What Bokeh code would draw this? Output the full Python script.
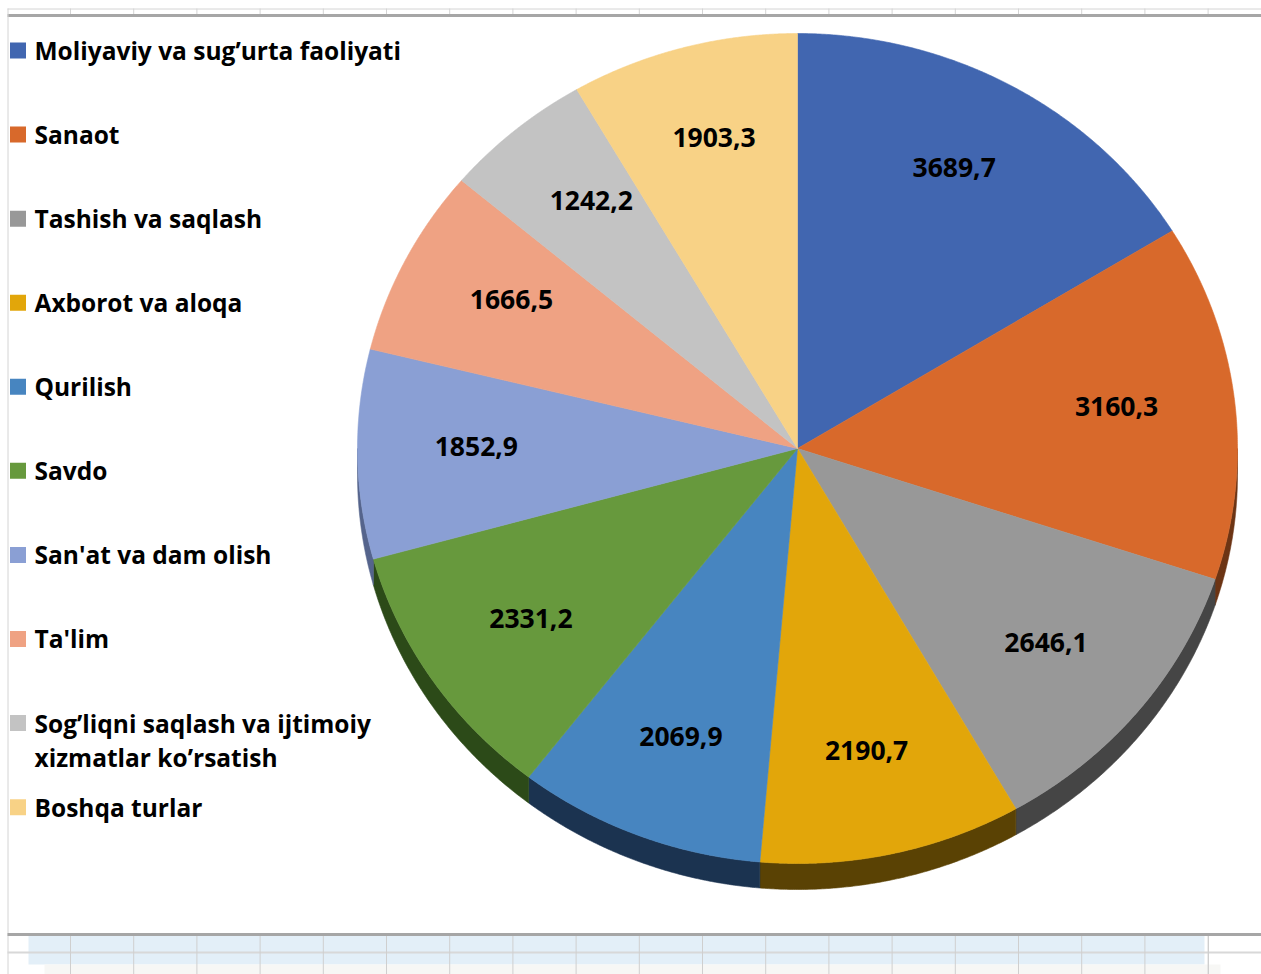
import numpy as np
from bokeh.plotting import figure
from bokeh.models import Range1d, ColumnDataSource
from bokeh.core.properties import value
from bokeh.embed import file_html
from bokeh.resources import INLINE

# ---------------- data ----------------
categories = [
    "Moliyaviy va sug’urta faoliyati",
    "Sanaot",
    "Tashish va saqlash",
    "Axborot va aloqa",
    "Qurilish",
    "Savdo",
    "San'at va dam olish",
    "Ta'lim",
    "Sog’liqni saqlash va ijtimoiy\nxizmatlar ko’rsatish",
    "Boshqa  turlar",
]
values = [3689.7, 3160.3, 2646.1, 2190.7, 2069.9, 2331.2, 1852.9, 1666.5, 1242.2, 1903.3]

top_colors = ["#4166b0", "#d8692b", "#989898", "#e2a60a", "#4785c0",
              "#67993d", "#8a9fd4", "#efa283", "#c3c3c3", "#f8d286"]
side_colors = ["#223a66", "#6c3414", "#454545", "#5a4204", "#1b3350",
               "#2c4a18", "#55648c", "#7a5040", "#666666", "#7a6840"]

# ---------------- layout ----------------
W, H = 1261, 974
cx, cy, rx, ry, depth = 797.0, 448.0, 440.0, 415.0, 26.0

p = figure(width=W, height=H, x_range=Range1d(0, W), y_range=Range1d(H, 0),
           output_backend="svg", toolbar_location=None, min_border=0,
           x_axis_type=None, y_axis_type=None)
p.grid.grid_line_color = None
p.outline_line_color = None
p.background_fill_color = "white"
p.border_fill_color = "white"

# spreadsheet-like background
col_x = np.arange(70, W, 63.2)
p.segment(x0=col_x, y0=np.full_like(col_x, 8), x1=col_x, y1=np.full_like(col_x, 15),
          line_color="#d4d4d4", line_width=1)
p.segment(x0=[7], y0=[8.5], x1=[W], y1=[8.5], line_color="#d4d4d4", line_width=1)
p.segment(x0=[7], y0=[15], x1=[W], y1=[15], line_color="#a6a6a6", line_width=3)
p.segment(x0=[7.5], y0=[8], x1=[7.5], y1=[H], line_color="#d4d4d4", line_width=1)

p.quad(left=[28], right=[1204], top=[935], bottom=[964], fill_color="#e3eff8", line_color=None)
p.quad(left=[44], right=[1220], top=[964], bottom=[H], fill_color="#f7f7f5", line_color=None)
p.segment(x0=[7], y0=[952], x1=[W], y1=[952], line_color="#d8d8d8", line_width=2)
p.segment(x0=col_x, y0=np.full_like(col_x, 935), x1=col_x, y1=np.full_like(col_x, H),
          line_color="#cfcfcf", line_width=1)
p.segment(x0=[1208], y0=[935], x1=[1208], y1=[H], line_color="#cfcfcf", line_width=1)
p.segment(x0=[7], y0=[934], x1=[W], y1=[934], line_color="#a6a6a6", line_width=3)

# ---------------- pie ----------------
vals = np.array(values, dtype=float)
cum = np.concatenate([[0.0], np.cumsum(vals)])
ang = cum / cum[-1] * 2 * np.pi


def ex(t):
    return cx + rx * np.sin(t)


def ey(t):
    return cy - ry * np.cos(t)


side_xs, side_ys, side_c = [], [], []
top_xs, top_ys = [], []
for i in range(len(vals)):
    a0, a1 = ang[i], ang[i + 1]
    s, e = max(a0, np.pi / 2), min(a1, 3 * np.pi / 2)
    if e > s:
        t = np.linspace(s, e, 120)
        side_xs.append(list(np.concatenate([ex(t), ex(t[::-1])])))
        side_ys.append(list(np.concatenate([ey(t), ey(t[::-1]) + depth])))
        side_c.append(side_colors[i])
    t = np.linspace(a0, a1, 200)
    top_xs.append([cx] + list(ex(t)))
    top_ys.append([cy] + list(ey(t)))

p.patches(xs="xs", ys="ys", fill_color="c", line_color="c", line_width=0.6,
          source=ColumnDataSource(dict(xs=side_xs, ys=side_ys, c=side_c)))
p.patches(xs="xs", ys="ys", fill_color="c", line_color="c", line_width=0.6,
          source=ColumnDataSource(dict(xs=top_xs, ys=top_ys, c=top_colors)))

mid = (ang[:-1] + ang[1:]) / 2
lab = dict(
    x=cx + 0.73 * rx * np.sin(mid),
    y=cy - 0.76 * ry * np.cos(mid),
    t=[f"{v:.1f}".replace(".", ",") for v in vals],
)
p.text(x="x", y="y", text="t", source=ColumnDataSource(lab), y_offset=-6,
       text_font=value("Open Sans"), text_font_style="bold", text_font_size="26.5px",
       text_align="center", text_baseline="middle", text_color="black")

# ---------------- legend ----------------
ly0, lstep, lline = 50.0, 84.07, 34.0
mk_x, mk_y, tx, ty, tt = [], [], [], [], []
for i, name in enumerate(categories):
    y = ly0 + i * lstep
    mk_x.append(17.5)
    mk_y.append(y)
    for j, line in enumerate(name.split("\n")):
        tx.append(34)
        ty.append(y + j * lline)
        tt.append(line)
p.rect(x=mk_x, y=mk_y, width=16, height=16, fill_color=top_colors, line_color=None)
p.text(x=tx, y=ty, text=tt, text_font=value("Open Sans"), text_font_style="bold",
       text_font_size="24.5px", text_align="left", text_baseline="middle", text_color="black")

open("out.html", "w").write(file_html(p, INLINE))
